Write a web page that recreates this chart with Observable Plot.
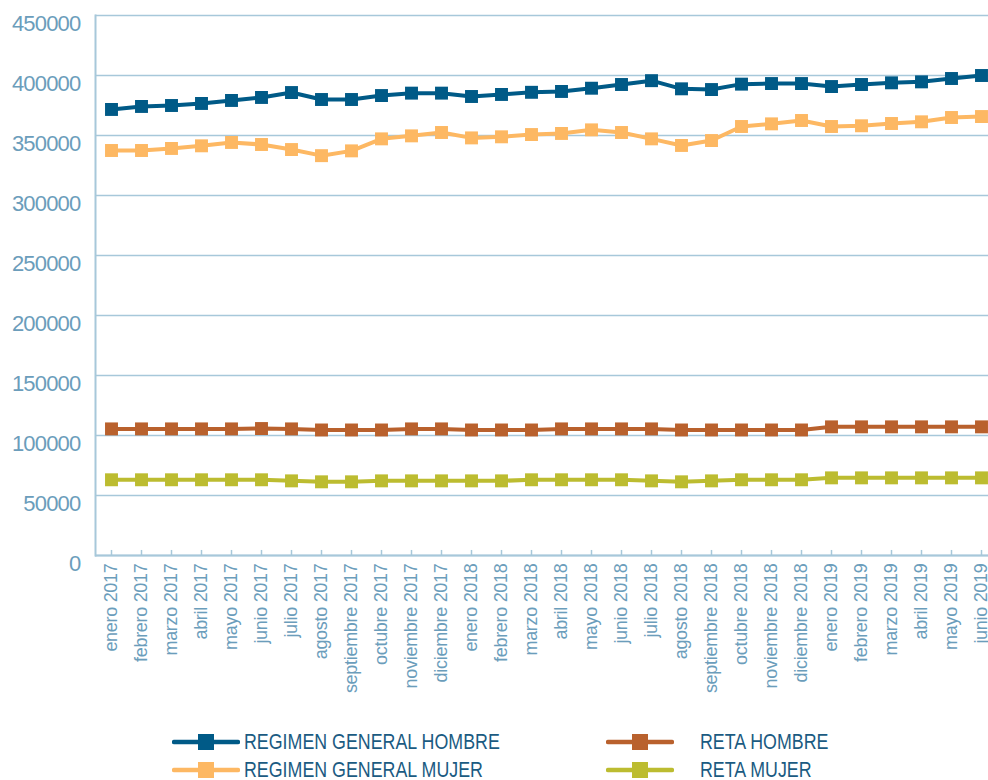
<!DOCTYPE html>
<html>
<head>
<meta charset="utf-8">
<script src="https://cdn.jsdelivr.net/npm/d3@7"></script>
<script src="https://cdn.jsdelivr.net/npm/@observablehq/plot@0.6"></script>
<style>
  body { margin: 0; background: #fff; }
  #wrap { position: relative; width: 988px; height: 780px; overflow: hidden; }
  .leg { position: absolute; display: flex; align-items: center; height: 28px;
         font-family: 'Liberation Sans', Arial, sans-serif;
         font-size: 22px; color: #1b5b82; white-space: nowrap; }
  .leg svg { display: block; }
  .leg span { display: inline-block; transform: scaleX(0.81); transform-origin: 0 50%; }
  .yax text { letter-spacing: -0.8px; }
  .xax text { letter-spacing: -0.3px; }
</style>
</head>
<body>
<div id="wrap"></div>
<script>
const months = [
  "enero 2017","febrero 2017","marzo 2017","abril 2017","mayo 2017","junio 2017",
  "julio 2017","agosto 2017","septiembre 2017","octubre 2017","noviembre 2017","diciembre 2017",
  "enero 2018","febrero 2018","marzo 2018","abril 2018","mayo 2018","junio 2018",
  "julio 2018","agosto 2018","septiembre 2018","octubre 2018","noviembre 2018","diciembre 2018",
  "enero 2019","febrero 2019","marzo 2019","abril 2019","mayo 2019","junio 2019"
];
const regimenGeneralHombre = [
  371700, 374200, 375000, 376700, 379200, 381700, 385800, 380000, 380000, 383300, 385300, 385300,
  382500, 384200, 386000, 386700, 389400, 392500, 395700, 388900, 388300, 392800, 393300, 393300,
  390800, 392500, 393900, 394700, 397500, 400000
];
const regimenGeneralMujer = [
  337500, 337500, 339200, 341400, 344200, 342500, 338300, 333200, 337200, 347200, 349700, 352500,
  348000, 348900, 350800, 351700, 354700, 352500, 347200, 341700, 345800, 357500, 359700, 362500,
  357500, 358100, 360000, 361400, 365000, 365800
];
const retaHombre = [
  105500, 105500, 105500, 105500, 105500, 105800, 105500, 104600, 104600, 104600, 105500, 105500,
  104600, 104600, 104600, 105500, 105500, 105500, 105500, 104600, 104600, 104600, 104600, 104600,
  107200, 107200, 107200, 107200, 107200, 107200
];
const retaMujer = [
  63100, 63100, 63100, 63100, 63100, 63100, 62200, 61400, 61400, 62200, 62200, 62200,
  62200, 62200, 63100, 63100, 63100, 63100, 62200, 61400, 62200, 63100, 63100, 63100,
  64700, 64700, 64700, 64700, 64700, 64700
];
const seriesNames = ["REGIMEN GENERAL HOMBRE", "REGIMEN GENERAL MUJER", "RETA HOMBRE", "RETA MUJER"];
const seriesColors = ["#005a87", "#fdb863", "#b9612d", "#bcbc30"];
const yTicks = [0, 50000, 100000, 150000, 200000, 250000, 300000, 350000, 400000, 450000];

const seriesValues = [regimenGeneralHombre, regimenGeneralMujer, retaHombre, retaMujer];
const data = seriesNames.flatMap((name, s) =>
  months.map((m, i) => ({ month: m, value: seriesValues[s][i], series: name })));

const axisColor = "#a7c8da";
const labelColor = "#6b9dbb";

const chart = Plot.plot({
  width: 988,
  height: 720,
  marginLeft: 95,
  marginRight: 0,
  marginTop: 15,
  marginBottom: 165,
  style: { fontFamily: "'Liberation Sans', Arial, sans-serif", color: labelColor, background: "#fff" },
  x: { type: "point", domain: months, range: [109, 982], padding: 0 },
  y: { domain: [0, 450000] },
  color: { domain: seriesNames, range: seriesColors },
  marks: [
    Plot.gridY(yTicks, { stroke: axisColor, strokeOpacity: 1, strokeWidth: 1.5 }),
    Plot.frame({ anchor: "left", stroke: axisColor, strokeWidth: 2 }),
    Plot.ruleY([0], { stroke: axisColor, strokeWidth: 2 }),
    Plot.ruleX(months, { x: d => d, y1: 0, y2: 4200, stroke: axisColor, strokeWidth: 1.5 }),
    Plot.axisX({ tickSize: 0, tickPadding: 8, tickRotate: -90, fontSize: 18, label: null, className: "xax" }),
    Plot.axisY(yTicks, { tickSize: 0, tickPadding: 15, dy: 8, fontSize: 22, tickFormat: d => String(d), label: null, className: "yax" }),
    Plot.line(data, { x: "month", y: "value", z: "series", stroke: "series", strokeWidth: 4 }),
    Plot.dot(data, { x: "month", y: "value", fill: "series", symbol: "square", r: 7.3 })
  ]
});

const wrap = document.getElementById("wrap");
wrap.appendChild(chart);

const legendPos = [
  { left: 172, top: 728, textGap: 4 },
  { left: 172, top: 756, textGap: 4 },
  { left: 606, top: 728, textGap: 26 },
  { left: 606, top: 756, textGap: 26 }
];
seriesNames.forEach((name, i) => {
  const p = legendPos[i];
  const div = document.createElement("div");
  div.className = "leg";
  div.style.left = p.left + "px";
  div.style.top = p.top + "px";
  const svg = d3.create("svg").attr("width", 68).attr("height", 28);
  svg.append("line").attr("x1", 2).attr("x2", 66).attr("y1", 14).attr("y2", 14)
    .attr("stroke", seriesColors[i]).attr("stroke-width", 4.5).attr("stroke-linecap", "round");
  svg.append("rect").attr("x", 26).attr("y", 6).attr("width", 16).attr("height", 16).attr("fill", seriesColors[i]);
  div.appendChild(svg.node());
  const span = document.createElement("span");
  span.textContent = name;
  span.style.marginLeft = p.textGap + "px";
  div.appendChild(span);
  wrap.appendChild(div);
});
</script>
</body>
</html>
